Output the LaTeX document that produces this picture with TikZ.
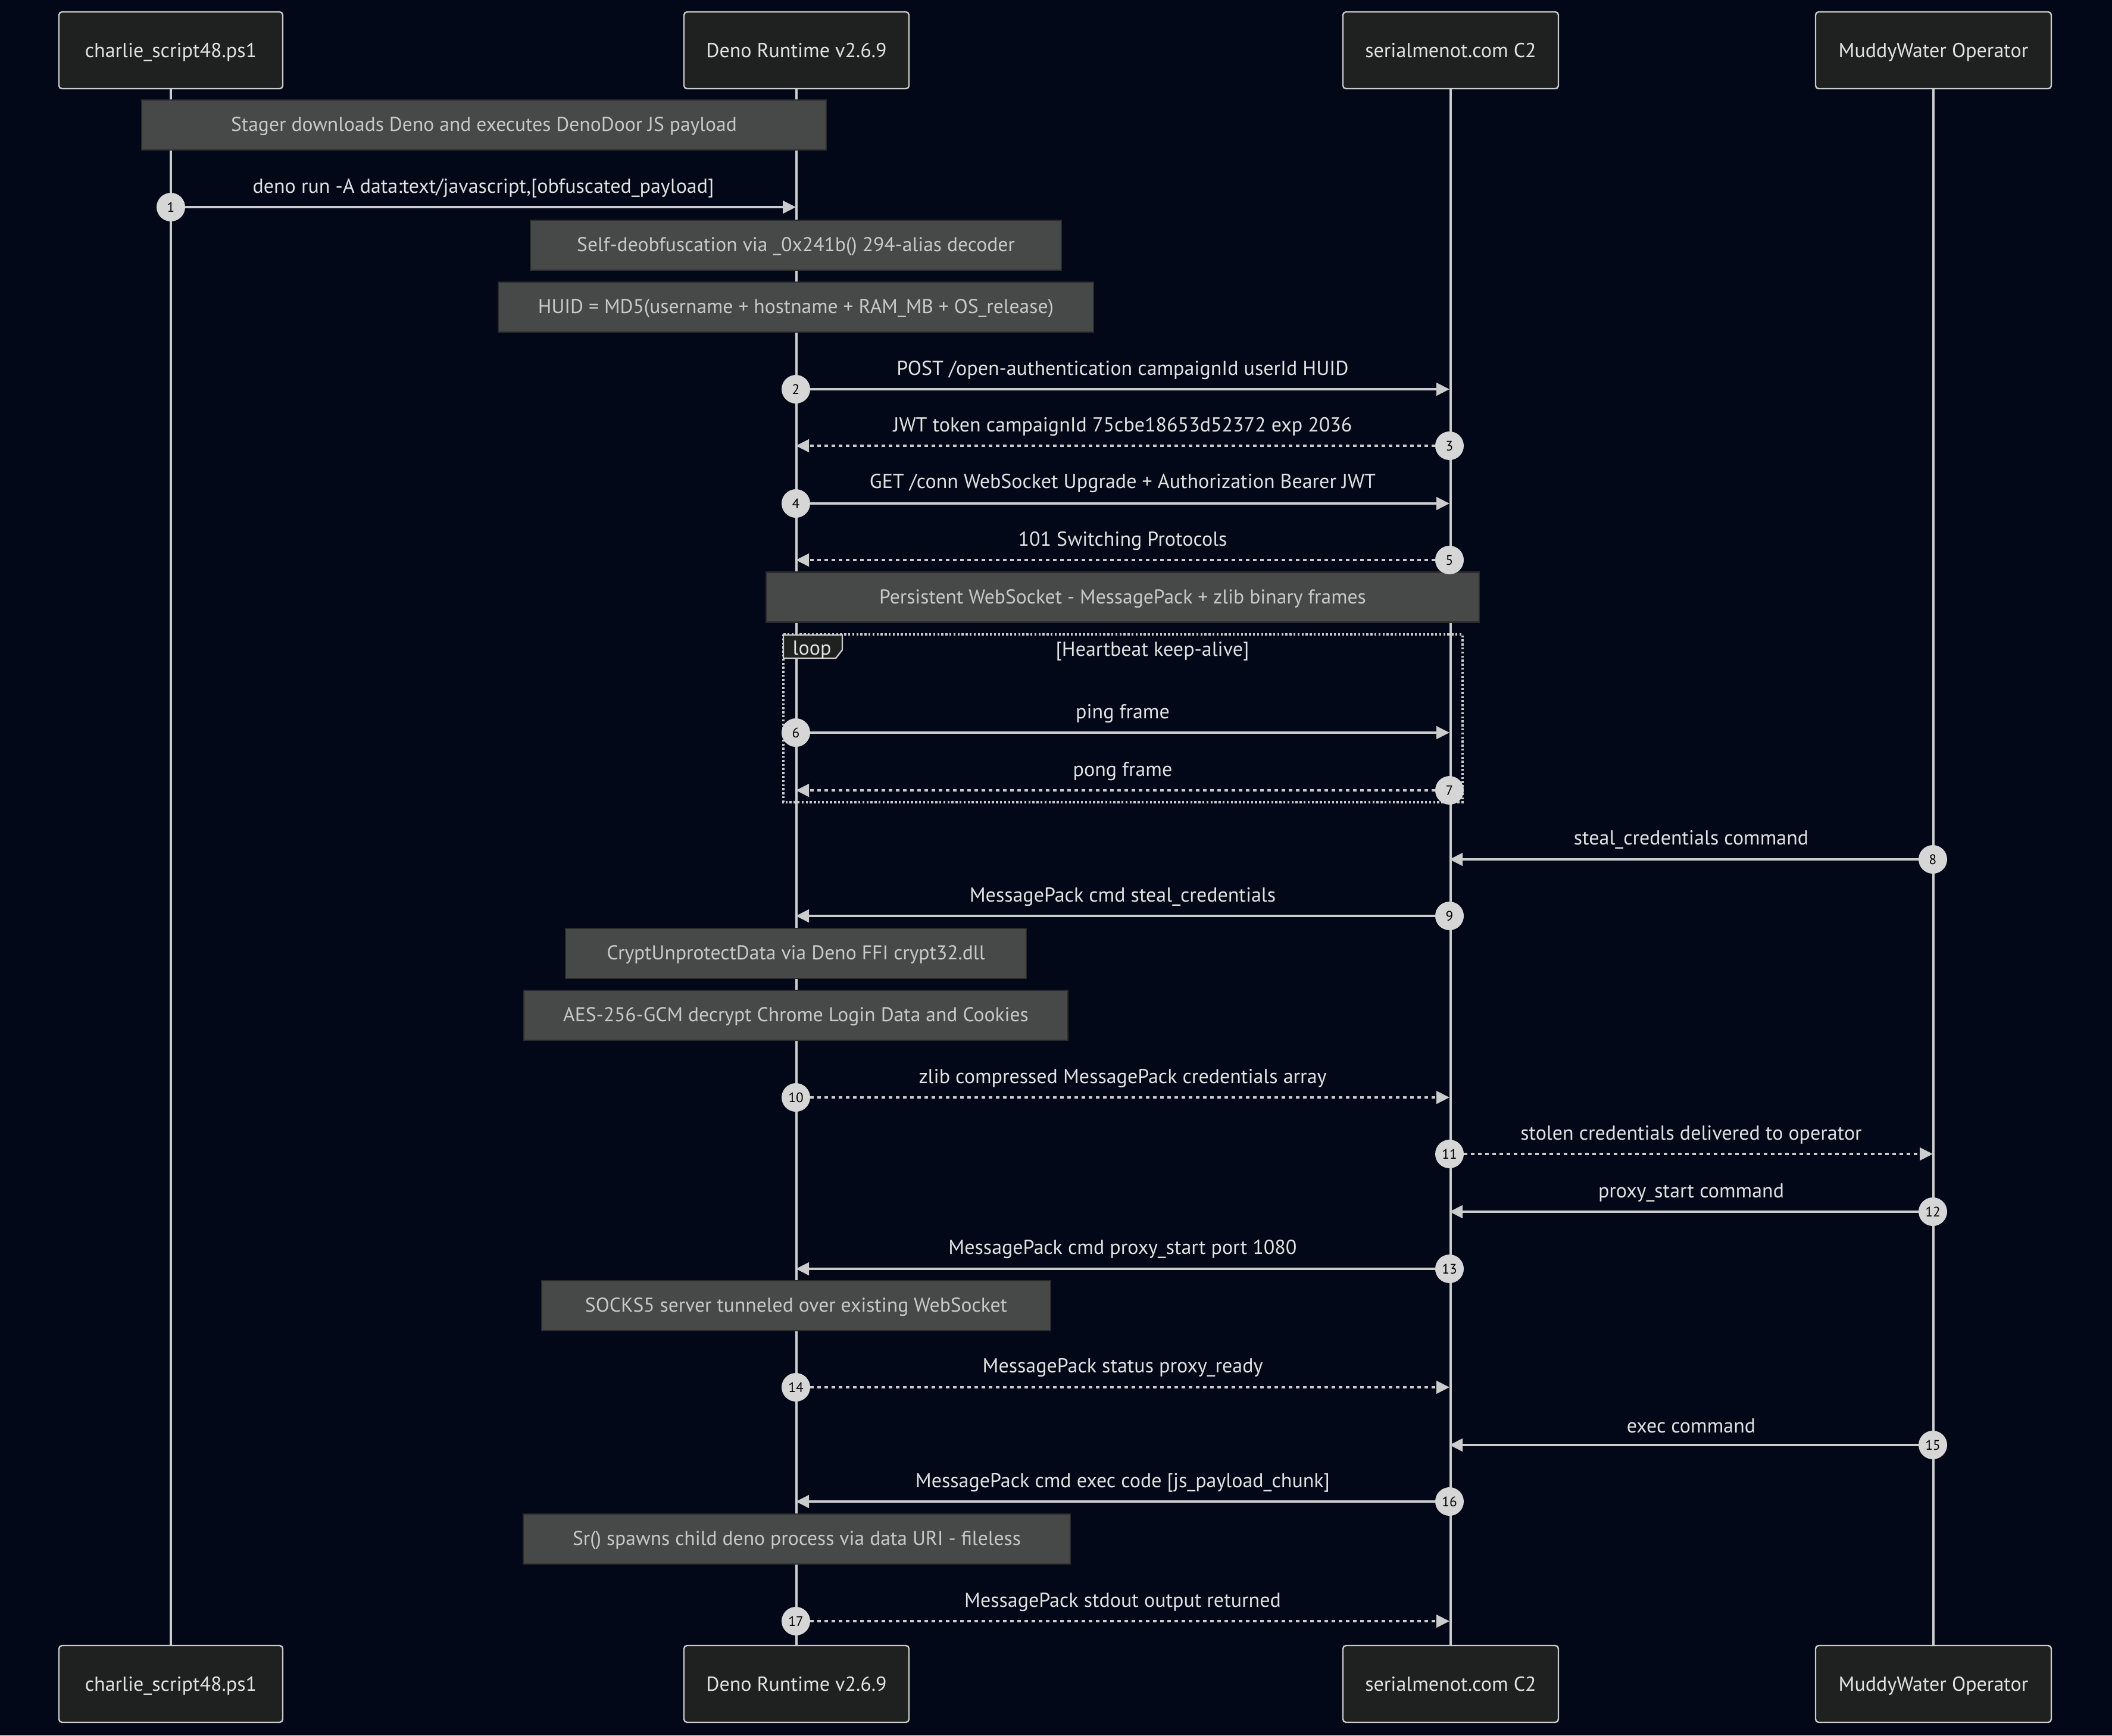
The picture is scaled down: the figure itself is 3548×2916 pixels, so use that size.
\documentclass[tikz,border=0pt]{standalone}
\usepackage{fontspec}
\setmainfont{PT Sans}
\usetikzlibrary{arrows.meta}
\definecolor{bg}{HTML}{020817}
\definecolor{actfill}{HTML}{1F2020}
\definecolor{lineC}{HTML}{CCCCCC}
\definecolor{notefill}{HTML}{474949}
\definecolor{noteborder}{HTML}{2B2B2B}
\definecolor{txt}{HTML}{E2E2E2}
\definecolor{notetxt}{HTML}{C8C8C8}
\definecolor{circfill}{HTML}{D6D6D6}
\tikzset{
  actor/.style={draw=lineC, line width=0.6pt, fill=actfill, rounded corners=1.3pt,
    minimum height=32.25pt, inner sep=0pt, text=txt, text height=8pt, text depth=2pt,
    font=\fontsize{8.5}{10}\selectfont},
  life/.style={draw=lineC, line width=1pt},
  notebox/.style={draw=noteborder, line width=0.6pt, fill=notefill, minimum height=21pt,
    inner sep=0pt, text=notetxt, text height=7.4pt, text depth=2pt,
    font=\fontsize{8.4}{10}\selectfont},
  msgsolid/.style={draw=lineC, line width=1pt, -{Triangle[length=5.5pt,width=5.3pt]}},
  msgdash/.style={msgsolid, dash pattern=on 1.5pt off 1.5pt},
  seqnum/.style={circle, fill=circfill, draw=none, minimum size=12pt, inner sep=0pt,
    text=black, font=\fontsize{5.8}{6}\selectfont},
  msgtext/.style={text=txt, inner sep=0pt, font=\fontsize{8.5}{10}\selectfont},
  loopbox/.style={draw=lineC, line width=0.85pt, dash pattern=on 0.85pt off 0.85pt},
  looplabel/.style={draw=lineC, line width=0.6pt, fill=actfill},
}
\newcommand\seqmsg[7]{%
  \coordinate (s#1) at (#3,#2);
  \coordinate (e#1) at (#4,#2);
  \draw[#5] (s#1) -- (e#1);
  \node[seqnum] (n#1) at (s#1) {#1};
  \node[msgtext] (t#1) at ({(#3+#4)/2},#6+4) {#7};
}
\begin{document}
\begin{tikzpicture}[x=0.25pt, y=-0.25pt]
\fill[bg] (0,0) rectangle (3548,2916);
\useasboundingbox (0,0) rectangle (3548,2916);
% actors top
\node[actor, minimum width=94pt] (a1) at (287,84.5) {charlie\_script48.ps1};
\node[actor, minimum width=94.5pt] (b1) at (1338,84.5) {Deno Runtime v2.6.9};
\node[actor, minimum width=90.5pt] (c1) at (2437,84.5) {serialmenot.com C2};
\node[actor, minimum width=99pt] (d1) at (3248,84.5) {MuddyWater Operator};
% actors bottom
\node[actor, minimum width=94pt] (a2) at (287,2829.5) {charlie\_script48.ps1};
\node[actor, minimum width=94.5pt] (b2) at (1338,2829.5) {Deno Runtime v2.6.9};
\node[actor, minimum width=90.5pt] (c2) at (2437,2829.5) {serialmenot.com C2};
\node[actor, minimum width=99pt] (d2) at (3248,2829.5) {MuddyWater Operator};
% lifelines
\draw[life] (a1.south) -- (a2.north);
\draw[life] (b1.south) -- (b2.north);
\draw[life] (c1.south) -- (c2.north);
\draw[life] (d1.south) -- (d2.north);
% loop frame
\draw[loopbox] (1316,1066) rectangle (2457,1348);
\draw[looplabel] (1316,1067) -- (1415,1067) -- (1415,1092) -- (1404,1106) -- (1316,1106) -- cycle;
\node[msgtext] (looptag) at (1364,1092) {loop};
\node[msgtext] (loopcond) at (1936,1094) {[Heartbeat keep-alive]};
% notes
\node[notebox, minimum width=287.5pt] (note1) at (813,210) {Stager downloads Deno and executes DenoDoor JS payload};
\node[notebox, minimum width=223pt] (note2) at (1337,412) {Self-deobfuscation via \_0x241b() 294-alias decoder};
\node[notebox, minimum width=250pt] (note3) at (1337,516) {HUID = MD5(username + hostname + RAM\_MB + OS\_release)};
\node[notebox, minimum width=299.5pt] (note4) at (1886,1003.5) {Persistent WebSocket - MessagePack + zlib binary frames};
\node[notebox, minimum width=193.5pt] (note5) at (1337,1602) {CryptUnprotectData via Deno FFI crypt32.dll};
\node[notebox, minimum width=228.5pt] (note6) at (1337,1706) {AES-256-GCM decrypt Chrome Login Data and Cookies};
\node[notebox, minimum width=213.75pt] (note7) at (1337.5,2194) {SOCKS5 server tunneled over existing WebSocket};
\node[notebox, minimum width=229.75pt] (note8) at (1338.5,2586) {Sr() spawns child deno process via data URI - fileless};
% messages
\seqmsg{1}{348}{287}{1337}{msgsolid}{312}{deno run -A data:text/javascript,[obfuscated\_payload]}
\seqmsg{2}{654}{1337}{2435}{msgsolid}{618}{POST /open-authentication campaignId userId HUID}
\seqmsg{3}{749}{2435}{1337}{msgdash}{713}{JWT token campaignId 75cbe18653d52372 exp 2036}
\seqmsg{4}{846}{1337}{2435}{msgsolid}{808}{GET /conn WebSocket Upgrade + Authorization Bearer JWT}
\seqmsg{5}{941}{2435}{1337}{msgdash}{905}{101 Switching Protocols}
\seqmsg{6}{1231}{1337}{2435}{msgsolid}{1195}{ping frame}
\seqmsg{7}{1328}{2435}{1337}{msgdash}{1292}{pong frame}
\seqmsg{8}{1444}{3247}{2435}{msgsolid}{1407}{steal\_credentials command}
\seqmsg{9}{1539}{2435}{1337}{msgsolid}{1503}{MessagePack cmd steal\_credentials}
\seqmsg{10}{1844}{1337}{2435}{msgdash}{1808}{zlib compressed MessagePack credentials array}
\seqmsg{11}{1939}{2435}{3247}{msgdash}{1903}{stolen credentials delivered to operator}
\seqmsg{12}{2036}{3247}{2435}{msgsolid}{2000}{proxy\_start command}
\seqmsg{13}{2132}{2435}{1337}{msgsolid}{2095}{MessagePack cmd proxy\_start port 1080}
\seqmsg{14}{2331}{1337}{2435}{msgdash}{2294}{MessagePack status proxy\_ready}
\seqmsg{15}{2428}{3247}{2435}{msgsolid}{2392}{exec command}
\seqmsg{16}{2523}{2435}{1337}{msgsolid}{2487}{MessagePack cmd exec code [js\_payload\_chunk]}
\seqmsg{17}{2724}{1337}{2435}{msgdash}{2688}{MessagePack stdout output returned}
\end{tikzpicture}
\end{document}
